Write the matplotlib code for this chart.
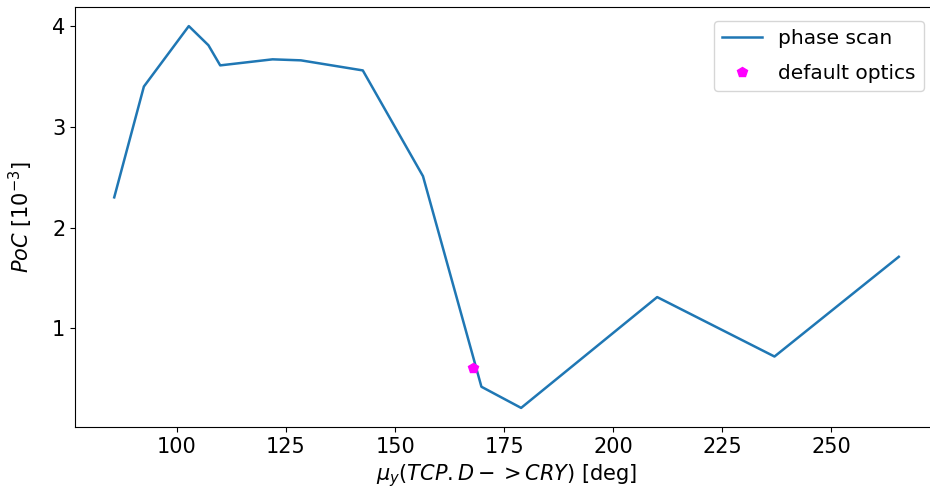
import matplotlib
matplotlib.use("Agg")
import matplotlib.pyplot as plt

# phase scan: mu_y (deg) vs PoC [1e-3]
mu_y = [85.6, 92.4, 102.7, 107.2, 109.9, 121.9, 128.4, 142.6,
        156.4, 169.8, 178.9, 210.1, 237.0, 265.5]
poc = [2.30, 3.40, 4.00, 3.81, 3.61, 3.67, 3.66, 3.56,
       2.51, 0.42, 0.21, 1.31, 0.72, 1.71]

# default optics point
default_mu = [167.9]
default_poc = [0.61]

y_ticks = [1, 2, 3, 4]

fig = plt.figure(figsize=(9.3, 5.03), dpi=100)
# axes runs past the right edge, as in the cropped original
ax = fig.add_axes([75 / 930, 76 / 503, 863 / 930, 420 / 503])

ax.plot(mu_y, poc, color="#1f77b4", lw=1.8, label="phase scan")
ax.plot(default_mu, default_poc, "p", color="magenta", ms=7, label="default optics")

ax.set_yticks(y_ticks)
ax.spines["right"].set_visible(False)
ax.set_xlabel(r"$\mu_y(TCP.D->CRY)$ [deg]", fontsize=15, labelpad=4)
ax.set_ylabel(r"$PoC$ [$10^{-3}$]", fontsize=15, labelpad=12)
ax.tick_params(labelsize=15)
ax.legend(loc="upper right", fontsize=14.5, labelspacing=0.8, borderaxespad=0.7)

fig.savefig("out.png", dpi=100)
